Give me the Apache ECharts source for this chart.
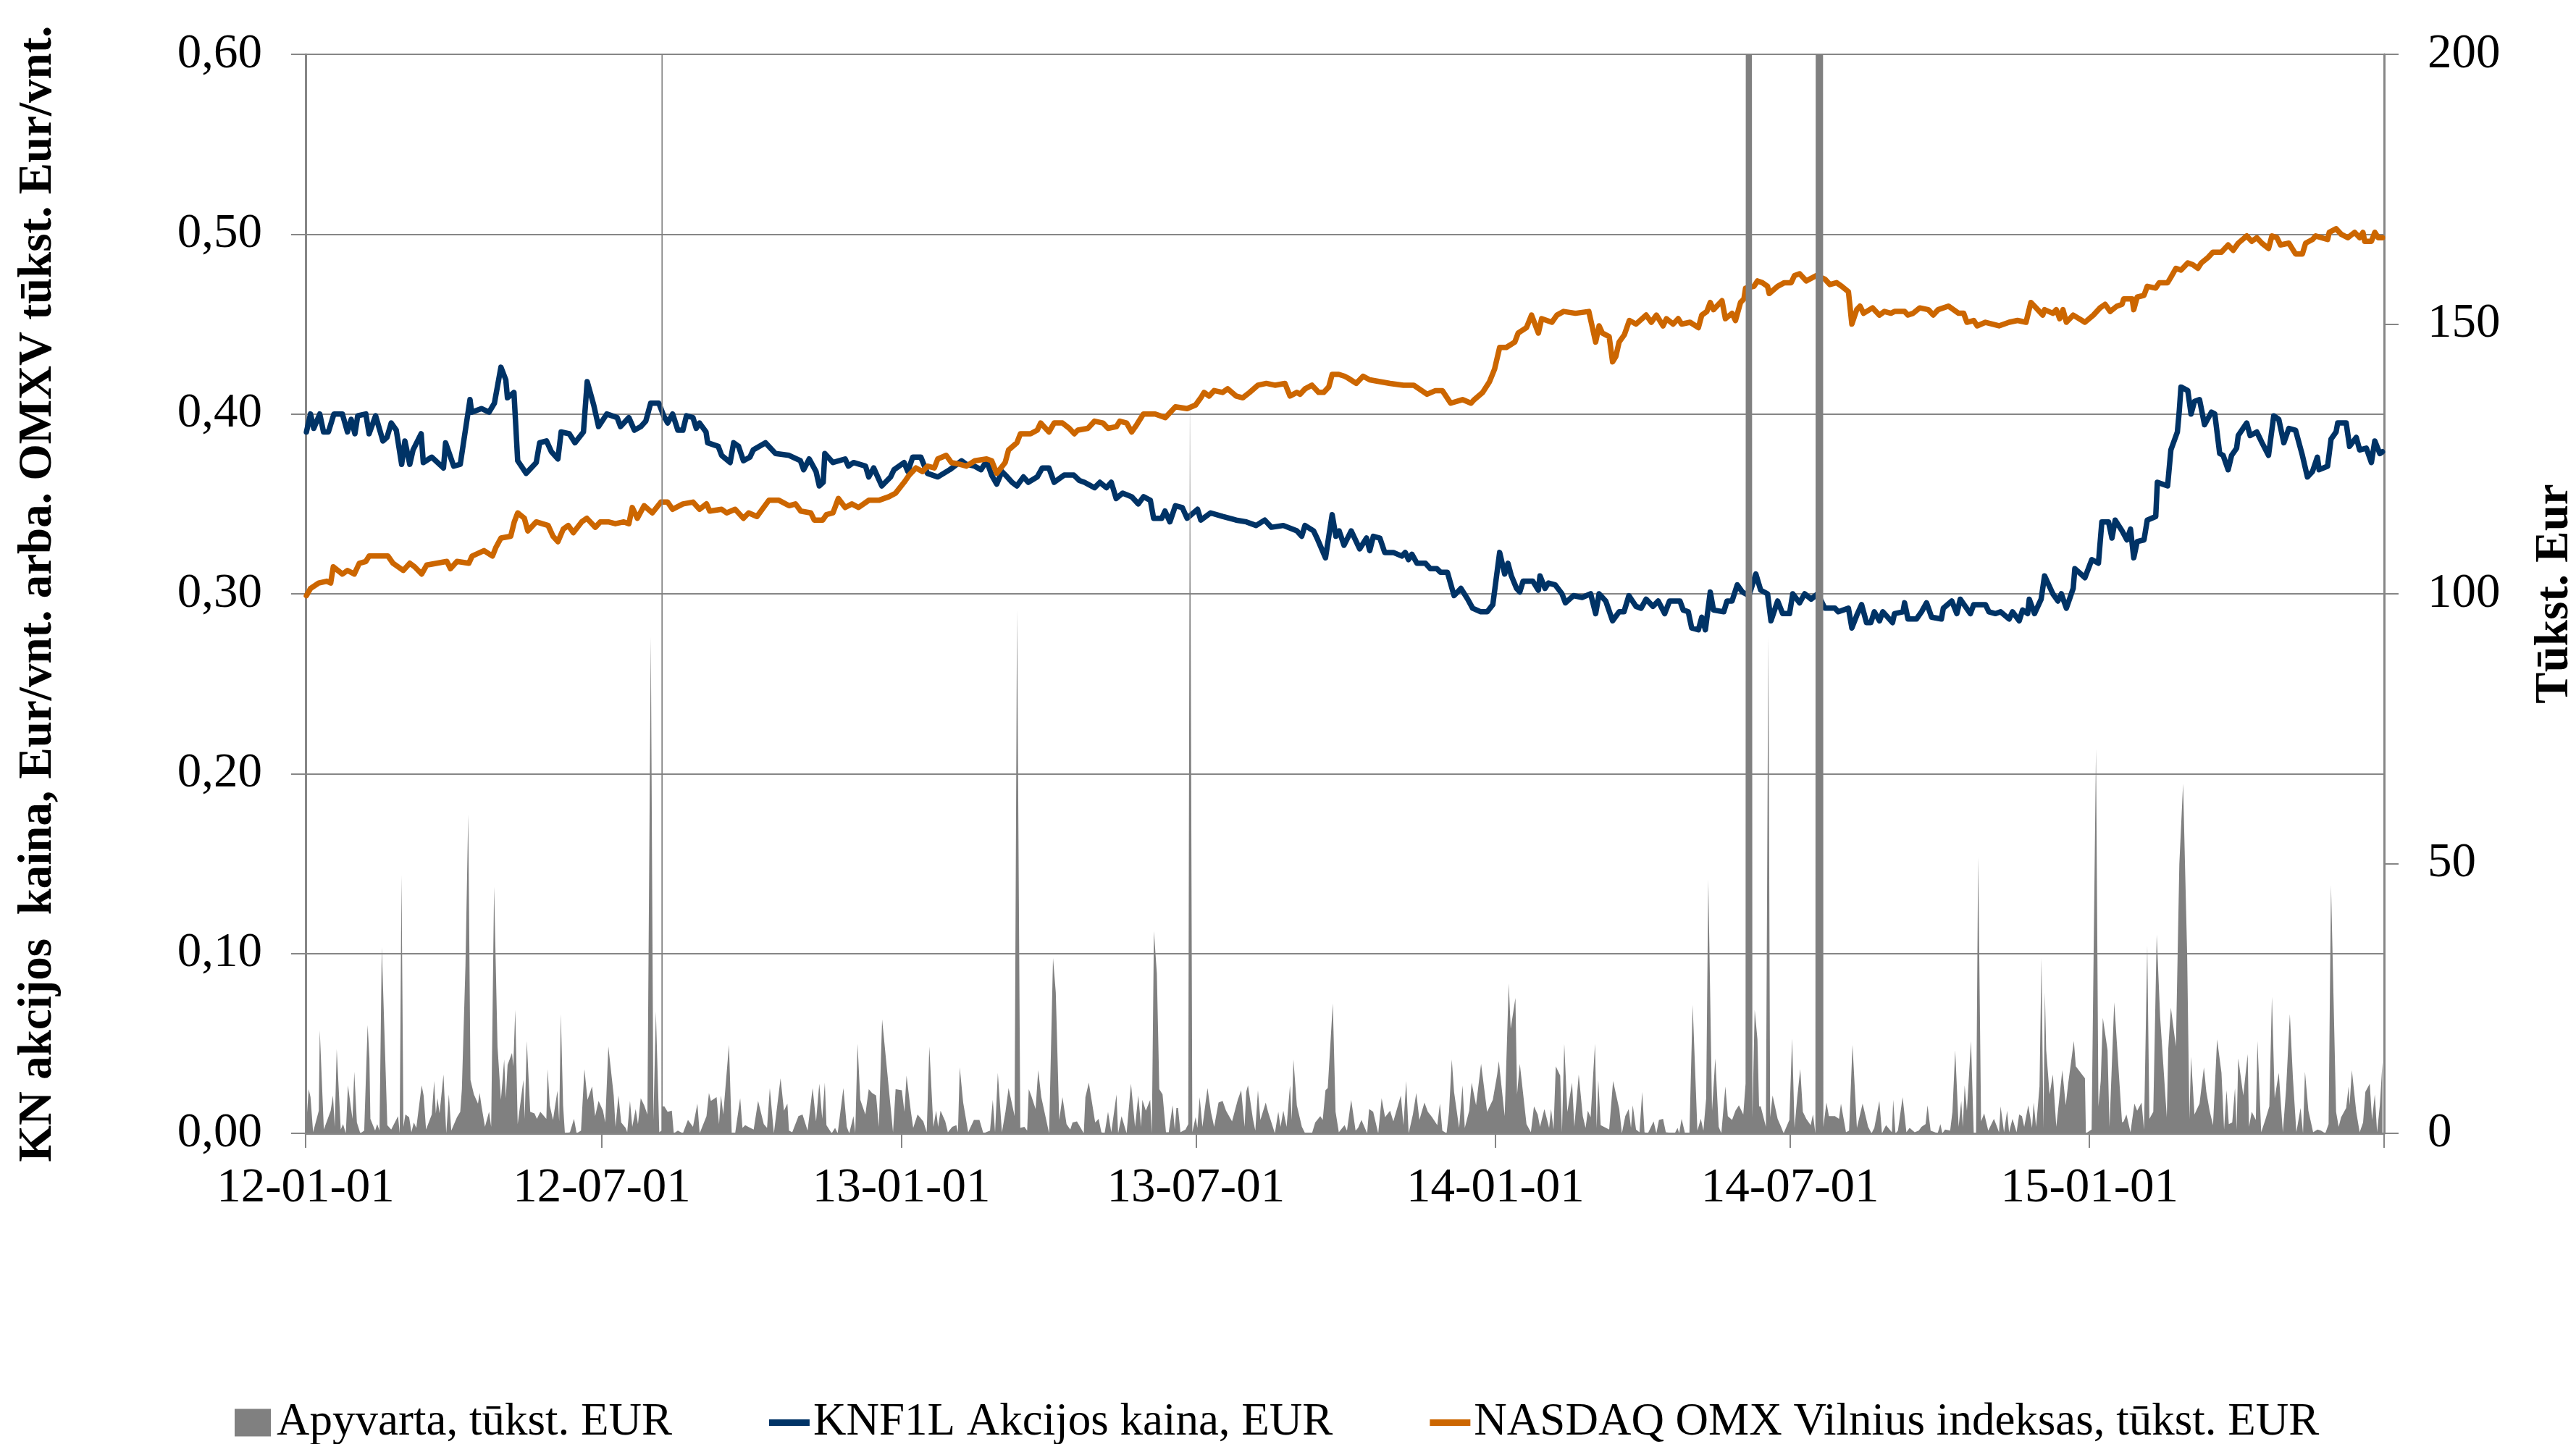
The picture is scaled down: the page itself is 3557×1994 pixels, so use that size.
<!DOCTYPE html>
<html>
<head>
<meta charset="utf-8">
<script src="https://cdn.jsdelivr.net/npm/echarts@6/dist/echarts.min.js"></script>
<style>
html,body{margin:0;padding:0;background:#ffffff;}
#chart{width:3557px;height:1994px;}
</style>
</head>
<body>
<div id="chart"></div>
<script>
// ---------- DATA (x = days since 2012-01-01) ----------
const startDate = '2012-01-01';
const endDate = '2015-07-01';
const xTickDates = ['2012-01-01','2012-07-01','2013-01-01','2013-07-01','2014-01-01','2014-07-01','2015-01-01','2015-07-01'];
const xLabelDates = ['2012-01-01','2012-07-01','2013-01-01','2013-07-01','2014-01-01','2014-07-01','2015-01-01'];
const seriesNames = ['Apyvarta, tūkst. EUR','KNF1L Akcijos kaina, EUR','NASDAQ OMX Vilnius indeksas, tūkst. EUR'];
const leftAxisName = 'KN akcijos  kaina, Eur/vnt. arba. OMXV tūkst. Eur/vnt.';
const rightAxisName = 'Tūkst. Eur';

// KNF1L share price, EUR
const priceKNF = [[0.5,.390],[3,.400],[5,.392],[8.7,.400],[11,.390],[14,.390],[17.4,.400],[22.6,.400],[25.7,.390],[28,.397],[30.3,.389],[32,.399],[37,.400],[39,.389],[43,.399],[47.5,.385],[50,.387],[52.6,.395],[55.7,.391],[59,.372],[61,.385],[64,.372],[66,.380],[71,.389],[72.3,.373],[77.5,.376],[84.7,.370],[86,.384],[91,.371],[95,.372],[101,.408],[102,.401],[108,.403],[112.7,.401],[116,.406],[120,.426],[123,.419],[124,.409],[128,.412],[130.3,.374],[135.5,.367],[141.7,.373],[143.8,.384],[148,.385],[151,.379],[155,.375],[157,.390],[162,.389],[165.5,.384],[170.7,.390],[173,.418],[177,.405],[180,.393],[185,.400],[191.4,.398],[193.5,.393],[198.6,.398],[202,.391],[206,.393],[209,.396],[212,.406],[217,.406],[220,.399],[222.4,.395],[225.5,.400],[228.7,.391],[231.8,.391],[234,.399],[238,.398],[240,.392],[242,.395],[246,.390],[247,.384],[253.5,.382],[255.6,.377],[260.8,.373],[263,.384],[266,.382],[269,.374],[273,.376],[275,.380],[282.5,.384],[288.7,.378],[297,.377],[304,.374],[306,.369],[309.4,.375],[313.6,.368],[315.6,.360],[318,.362],[319,.378],[324,.373],[331.5,.375],[333.5,.371],[336.6,.373],[344,.371],[346,.365],[349,.370],[354,.360],[359.4,.365],[361.5,.369],[367.7,.373],[370,.368],[373,.376],[378,.376],[382,.367],[388.4,.365],[395.7,.369],[403,.374],[406,.372],[411,.371],[415,.369],[418.4,.374],[421.5,.366],[424.6,.361],[427.8,.368],[430,.366],[434,.362],[437,.360],[441,.365],[444,.362],[449.5,.365],[452.6,.370],[456.7,.370],[459.9,.362],[466,.366],[472,.366],[475.4,.363],[478.5,.362],[484.7,.359],[488,.362],[492,.359],[495,.362],[498,.353],[502,.356],[507.5,.354],[511.6,.350],[514.8,.354],[519,.352],[521,.342],[526,.342],[528,.346],[531,.340],[534.4,.349],[538.6,.348],[541.6,.342],[548,.347],[550,.341],[556,.345],[563.4,.343],[571.7,.341],[578,.340],[584,.338],[589.3,.341],[593.4,.337],[600.7,.338],[609,.335],[612,.332],[614,.338],[619.3,.335],[621.4,.331],[626.6,.320],[630.7,.344],[633,.332],[635,.335],[638,.327],[642.4,.335],[647.6,.325],[651.8,.331],[653.8,.324],[656,.332],[660,.331],[663,.323],[668.3,.323],[673.5,.321],[675.6,.323],[677.6,.319],[679.7,.322],[682.8,.317],[688,.317],[691,.314],[695,.314],[697.3,.312],[701.5,.312],[705.6,.299],[709.8,.303],[714,.297],[717,.292],[722,.290],[726,.290],[729.4,.294],[733.6,.323],[736.7,.311],[738.7,.317],[740.8,.310],[744,.303],[746,.301],[748,.307],[754,.307],[757.4,.302],[758.4,.310],[761.5,.303],[763.6,.306],[767.7,.305],[771.9,.300],[774,.295],[779,.299],[784.3,.298],[789.5,.300],[792.6,.289],[794.7,.300],[798.8,.296],[803,.285],[807,.290],[810,.290],[813,.299],[817.4,.293],[820.5,.292],[823.6,.297],[827.8,.293],[831,.296],[835,.289],[838,.296],[844.4,.296],[846.4,.291],[849.5,.290],[851.6,.281],[855.7,.280],[857.8,.287],[860,.280],[863,.301],[865,.291],[871.3,.290],[873.3,.296],[876.4,.296],[879.6,.305],[882.7,.301],[886.8,.299],[891,.311],[894,.302],[898.2,.300],[900.3,.285],[904.4,.296],[907.5,.289],[911.7,.289],[913.7,.300],[917.9,.295],[921,.300],[925,.297],[929,.300],[933.4,.292],[939.6,.292],[941.7,.290],[947.9,.292],[950,.281],[953,.288],[956,.294],[959,.284],[961.7,.284],[963.8,.290],[967,.285],[969,.290],[975,.284],[976.2,.289],[981.4,.290],[982.4,.295],[984.5,.286],[989.7,.286],[992.8,.290],[995.9,.295],[999,.287],[1005,.286],[1006.2,.292],[1011.4,.296],[1014.5,.289],[1016.6,.297],[1022.8,.289],[1024.9,.294],[1032.1,.294],[1034.2,.290],[1038.3,.289],[1041.4,.290],[1046.6,.286],[1048.7,.290],[1052.8,.285],[1054.9,.291],[1058,.289],[1059,.297],[1062.2,.289],[1066.3,.297],[1068.4,.310],[1073.5,.300],[1076.6,.296],[1078.7,.300],[1081.8,.292],[1086,.303],[1087,.314],[1093.2,.309],[1097.4,.319],[1101.5,.317],[1103.6,.340],[1107.7,.340],[1109.8,.331],[1111.8,.341],[1116,.335],[1119,.330],[1121.2,.336],[1123.2,.320],[1125.3,.329],[1129.5,.330],[1131.5,.341],[1136.7,.343],[1137.7,.362],[1144,.360],[1146,.380],[1150,.390],[1151.2,.402],[1152.2,.415],[1156.4,.413],[1158.4,.400],[1160.5,.407],[1163.6,.408],[1166.7,.394],[1170.9,.401],[1173,.400],[1176,.378],[1178.1,.377],[1181.2,.369],[1183.3,.377],[1186.4,.381],[1187.4,.388],[1192.6,.395],[1194.7,.388],[1198.8,.390],[1202,.384],[1206,.377],[1209.2,.399],[1212.3,.397],[1215.4,.384],[1218.5,.392],[1222.6,.391],[1226.8,.377],[1229.9,.365],[1233,.368],[1236,.376],[1237.1,.369],[1242.3,.371],[1244.4,.386],[1247.5,.390],[1248.5,.395],[1253.7,.395],[1255.8,.382],[1259.9,.387],[1262,.380],[1266.1,.381],[1269.2,.373],[1271.3,.385],[1274.4,.378],[1276,.379]];

// NASDAQ OMX Vilnius index, thousands
const indexOMXV = [[0.5,.299],[3,.303],[8,.306],[13,.307],[15.4,.306],[17,.315],[22.6,.311],[25.7,.313],[29.9,.311],[33,.317],[37,.318],[39,.321],[45.4,.321],[50.6,.321],[53.7,.317],[60,.313],[64,.317],[67,.315],[71.3,.311],[74.4,.316],[80.6,.317],[86.8,.318],[89,.314],[93,.318],[100.3,.317],[102.3,.321],[109.6,.324],[114.8,.321],[117,.326],[120,.331],[126,.332],[128.2,.340],[130.3,.345],[134.4,.342],[136.5,.335],[141.7,.340],[149,.338],[152,.332],[155,.329],[158.3,.336],[161.4,.338],[164.5,.334],[169.6,.340],[172.8,.342],[178,.337],[181,.340],[186,.340],[190.3,.339],[195.5,.340],[198.6,.339],[200.7,.348],[203.8,.342],[208,.349],[213,.345],[218.3,.351],[222.4,.351],[225.5,.347],[231.8,.350],[238,.351],[242,.347],[246.3,.350],[248.3,.346],[255.6,.347],[258.7,.345],[263.9,.347],[269,.342],[272.2,.345],[277.3,.343],[284.6,.352],[290.8,.352],[297,.349],[301,.350],[304.2,.346],[310.4,.345],[312.5,.341],[317.7,.341],[320,.344],[324,.345],[327.3,.353],[331.5,.348],[335.6,.350],[339.7,.348],[346,.352],[352.2,.352],[358.4,.354],[362.5,.356],[367.7,.362],[370.8,.366],[375,.370],[379,.368],[382,.371],[386.3,.370],[388.4,.375],[393.6,.377],[396.7,.373],[401.9,.372],[406,.371],[411.2,.374],[418.4,.375],[421.5,.374],[424.6,.367],[429.8,.373],[431.9,.380],[437,.384],[439.2,.389],[445.4,.389],[449.5,.391],[451.6,.395],[456.7,.390],[459.9,.395],[465,.395],[469.2,.392],[472.3,.389],[474.4,.391],[480.6,.392],[484.7,.396],[489.9,.395],[493,.392],[498.2,.393],[500.2,.396],[504.4,.395],[507.5,.390],[510.6,.394],[514.7,.400],[522,.400],[528.2,.398],[534.4,.404],[541.6,.403],[546.8,.405],[550,.409],[552,.412],[555.1,.410],[558.2,.413],[563.4,.412],[566.5,.414],[571.7,.410],[575.8,.409],[580,.412],[585.1,.416],[590.3,.417],[595.5,.416],[601.7,.417],[604.8,.410],[609,.412],[611,.411],[614.1,.414],[618.3,.416],[622.4,.412],[625.5,.412],[628.6,.415],[630.7,.422],[634.8,.422],[638.3,.421],[640.4,.420],[645.5,.417],[649.7,.421],[653.8,.419],[660,.418],[666.3,.417],[674.5,.416],[680.8,.416],[689,.411],[694.2,.413],[698.4,.413],[703.5,.406],[710.8,.408],[716,.406],[718,.408],[723.2,.412],[727.4,.418],[730.5,.425],[733.6,.437],[737.7,.437],[742.9,.440],[745,.445],[750.1,.448],[753.2,.455],[757.4,.445],[759.4,.453],[765.7,.451],[768.8,.455],[772.9,.457],[780.2,.456],[788.4,.457],[792.6,.440],[794.7,.449],[796.7,.445],[800.9,.443],[803,.429],[805,.432],[807,.440],[810.2,.444],[813.3,.452],[817.4,.450],[823.6,.455],[826.8,.451],[829.9,.455],[834,.449],[836.1,.453],[840.2,.450],[843.3,.453],[845.4,.450],[850.6,.451],[855.7,.448],[857.8,.455],[860.9,.457],[863,.462],[865,.458],[870.2,.463],[872.3,.453],[876.4,.456],[878.5,.452],[881.6,.462],[883.7,.464],[884.7,.470],[889.9,.471],[892,.474],[895,.473],[898.2,.471],[899.2,.467],[904.4,.471],[908.5,.473],[912.7,.473],[914.8,.477],[917.9,.478],[922,.474],[928.2,.477],[933.4,.475],[936.5,.472],[940.6,.473],[943.8,.471],[947.9,.468],[950,.450],[953,.458],[955,.460],[957.2,.456],[962.7,.459],[966.9,.455],[970,.457],[974,.456],[976.2,.457],[982.4,.457],[984.5,.455],[987.6,.456],[991.7,.459],[997,.458],[1000,.455],[1003,.458],[1009.3,.460],[1015.6,.456],[1018.7,.456],[1020.7,.451],[1024.9,.452],[1027,.449],[1032.1,.451],[1040.4,.449],[1046.6,.451],[1051.8,.452],[1057,.451],[1060,.462],[1063.2,.459],[1067.3,.455],[1068.4,.458],[1073.5,.456],[1075.6,.458],[1077.7,.453],[1079.7,.458],[1081.8,.451],[1086,.455],[1093.2,.451],[1098.4,.455],[1102.5,.459],[1105.6,.461],[1108.7,.457],[1112.9,.460],[1116,.461],[1117,.464],[1122.2,.464],[1123.2,.458],[1125.3,.465],[1129.5,.466],[1131.5,.471],[1136.7,.470],[1138.8,.473],[1144,.473],[1146,.476],[1149.1,.481],[1152.2,.480],[1156.4,.484],[1159.5,.483],[1162.6,.481],[1164.7,.484],[1168.8,.487],[1171.9,.490],[1177.1,.490],[1181.2,.494],[1184.3,.491],[1187.4,.495],[1192.6,.499],[1195.7,.496],[1198.8,.498],[1201.9,.495],[1206,.492],[1208.1,.499],[1211.2,.498],[1213.3,.494],[1218.5,.495],[1222.6,.489],[1226.8,.489],[1228.8,.495],[1233,.497],[1235,.499],[1242.3,.497],[1243.3,.501],[1247.5,.503],[1250.6,.500],[1254.7,.498],[1258.9,.501],[1262,.498],[1264,.501],[1265.1,.496],[1269.2,.496],[1271.3,.501],[1273.4,.498],[1276,.498]];

// Turnover, thousand EUR (right axis)
const turnover = [[0,0],[1.9,8.2],[3,6.7],[4.6,0.2],[8.1,4.2],[8.7,19.1],[11.2,0.7],[15.4,4.2],[16.8,7],[17.9,1.2],[19.1,15.6],[21.6,0.7],[23,1.7],[24.7,0],[26,8.9],[28.8,2.7],[29.9,11.4],[31.5,2],[33.6,0],[36,0.5],[38.1,20.1],[39.2,13.9],[39.8,2.7],[42.7,0.5],[44,1.7],[45.4,0.5],[46.8,34.5],[50.2,1.5],[52.6,0.7],[56.8,3.2],[57.8,0],[58.9,47.9],[60.1,1.2],[61.3,3.5],[63.6,3],[65,0.2],[66.5,2],[68,1],[71.3,8.9],[72.5,7],[74,0.7],[77.5,3.5],[79,9.7],[80,3.7],[81,6.5],[82.3,3.7],[84.7,10.9],[86.4,0],[88,7.2],[89.5,0.5],[93,3],[95,4],[96,8.2],[98.2,31],[99.9,59.1],[101.3,9.9],[103.4,7.2],[105.9,5.5],[106.9,7.5],[108.1,5],[110.2,1.2],[112.7,4],[114,1.2],[115.8,45.7],[117.9,16.1],[120,6.2],[122,13.7],[123,6.5],[124.1,12.7],[126.8,14.9],[127.6,12.4],[128.8,22.9],[130.3,1.7],[133.8,9.9],[134.6,2.7],[135.9,17.1],[138,4],[140.6,3.7],[142.1,2.7],[144.2,4],[147.9,2.7],[148.7,11.9],[150,5.2],[152,2.5],[154.7,7.9],[155.8,2.2],[156.8,22.1],[158.2,5.2],[159.3,0],[162.4,0.2],[164.9,2.7],[166.5,0],[169.2,0.5],[171.3,11.9],[173.2,6.2],[176,8.7],[177.9,3.2],[180,6],[182.7,4.2],[184.1,2],[186,16.1],[189.3,7],[190.4,1.2],[192.2,7],[193.9,2],[196.6,1],[197.6,0.2],[199.3,6],[200.7,1.2],[202.8,4.5],[204.2,1.7],[205.9,6.5],[208,5.2],[210,3.5],[212.1,92],[213.7,2.5],[215.2,22.6],[217.3,0.2],[218.6,0.5],[219,1500],[219.4,5],[220.4,5],[222.4,4],[225,4.2],[226.2,0],[228.7,0.5],[231.8,0],[234.9,2.5],[238,1.2],[240.7,5.5],[242.1,0],[246.3,3.2],[247.8,7.5],[249,6],[252.5,6.7],[254,1.7],[255.2,7],[256.6,3.5],[260.1,16.4],[261.8,0],[263.9,0],[267,6.5],[268.4,1],[270.1,1.5],[273.2,1],[275.3,0.7],[278,6],[281.5,1.7],[283.5,1],[285.2,8.4],[287.7,0],[291.8,10.2],[293.9,4.2],[296,5.5],[297,0.5],[299,0.2],[302.8,3.2],[305.3,3.5],[308.4,0.5],[311.5,8.4],[313.6,2.2],[315.6,9.2],[317.4,2.7],[319,9.4],[320,1.5],[323.2,0],[325.3,1],[326.9,0],[330.4,8.4],[332.5,1.2],[334,0],[336.6,3.2],[337.7,0],[339.1,16.6],[340.8,6.2],[343.9,3.5],[346,8.2],[348,7.5],[350.5,7],[352.2,1.2],[354.2,21.1],[357.4,11.2],[360.9,0.2],[362.5,8.2],[366.3,8],[367.9,4],[369.2,10.7],[371.8,4.2],[373.3,1],[376,3.5],[379.5,2.2],[381.6,0.2],[383.2,16.1],[385.7,1.2],[387.4,4.2],[388.6,1.2],[390.1,4.2],[393,2.2],[394.6,0.2],[397.3,1.2],[399.8,1.5],[400.8,0.2],[401.9,12.2],[404,5.7],[407.1,0.2],[410.6,2.5],[414,2.5],[416.4,0],[420.5,0.5],[422.2,6.2],[423.6,0.2],[425.3,11.2],[427.8,0.2],[430,4],[431.9,8.4],[435.6,3.2],[437.1,97],[439.1,1],[441.6,1.2],[443.3,0.5],[444.3,8.2],[445.8,7],[448.5,4.5],[450.1,11.7],[452,6.7],[456.8,0],[459.2,32.5],[460.9,26.1],[463,2.5],[465,6.7],[467.5,1.7],[469.8,0.7],[471.2,2],[473.9,2.2],[478.1,0],[479.1,6.7],[481.2,9.4],[485.1,2],[487.2,2.7],[488.9,0.2],[490.9,0],[493,4],[495,0.2],[498.2,7.2],[499.2,0],[501.3,3.2],[504.4,0],[507.1,9.2],[509.6,1.2],[511.6,7],[513.3,1.2],[514.1,6.2],[516.2,4.2],[518.9,6.2],[519.9,0],[521.2,37.5],[523,29.6],[524.5,8.2],[526.5,7.2],[528.6,0.2],[530.3,0.2],[532.7,5.2],[534,0.7],[535,4.7],[536,4.7],[537.5,0.2],[540.6,0.7],[542.3,1.7],[543.3,138],[544.8,0.2],[546.8,3],[547.9,1],[549.3,6.7],[551,1.2],[554.1,8.4],[556.2,4],[558.2,1.2],[560.9,5.7],[563.4,6],[565.5,4.2],[569.2,2.2],[572.7,6.2],[574.8,8],[576.9,1.2],[577.9,7.7],[579,8.9],[582,2.7],[583.5,0.5],[585.1,8],[586.6,2.5],[589.9,5.7],[591.3,4],[595.5,0],[597.6,4],[599,1.2],[600.7,4.2],[602.7,1.2],[604.8,8.9],[605.9,2.5],[606.9,13.7],[609,5.2],[612.1,1.2],[614.1,0],[618.3,0],[620.3,2],[623.4,3.2],[624.9,2.5],[626.6,8],[628,8.4],[631.1,24.1],[632.8,4],[634.8,0.2],[638.3,1.5],[639.8,0.5],[642.4,6.2],[645.1,0.5],[646.6,1],[648.7,2.5],[652.2,0],[653.4,4.5],[655.9,4],[659,0],[661.1,6.5],[663.2,3],[666.3,4.2],[668.3,2.2],[672.9,7],[674.5,1.5],[676.2,9.7],[677.7,0],[680.3,3.5],[682.4,7.5],[684.3,2.5],[687.4,5.7],[689.5,4],[692.1,3],[695.3,1.5],[696.9,5.5],[698.4,0.5],[701,0],[702.5,4],[704.2,13.7],[705.6,7.7],[708.7,1],[710.8,8.9],[712.2,1],[714.9,4.2],[716.4,9.4],[719.1,5.2],[722.2,12.9],[725.9,4],[729.4,6.2],[732.1,10.9],[733.1,13.4],[736.7,3.2],[739.2,27.8],[740.4,19.4],[743.3,25.1],[744.3,7.2],[746,12.9],[750.1,1.7],[752.8,0.2],[754.7,5],[757,3.5],[758.4,1.2],[761.1,4.5],[764,1],[765.2,4.5],[766.7,0.7],[768.1,12.4],[770.8,10.7],[771.9,0.2],[773.3,16.6],[775.2,4],[778.1,9.4],[779.5,1.2],[782.2,10.9],[784.7,3.2],[786.4,1],[787.8,4.2],[789.5,3],[792.2,16.6],[793.2,1],[794.2,9.9],[795.7,1.5],[800.9,0.7],[803.3,9.7],[807.1,4.5],[808.7,0],[810.8,3.2],[812.9,4.5],[814.3,1],[815.4,5.2],[817.4,0.7],[819.5,0.2],[821.2,7.7],[822.6,0.2],[824.7,0],[828.2,2.2],[829.9,0],[831.5,2.5],[834,2.7],[835.7,0.2],[841.2,0],[842.9,1],[843.9,0],[845.4,2.7],[847.5,0],[850.2,0],[852.2,23.8],[855.1,0.5],[857.2,2.7],[858.8,0.5],[860.5,6.5],[861.8,47],[864.1,4.2],[866.1,13.9],[868.2,1.2],[869.8,0],[872.3,8.7],[873.8,3.2],[876.4,2.5],[878.5,4.2],[880.6,5.2],[883.3,3.5],[884.7,9.2],[885.7,1500],[886.7,1500],[888.9,3],[890.3,22.9],[892,17.4],[893,5],[894,5],[897.2,1.2],[898.7,92],[899.8,3],[901.3,7],[904.4,2.7],[906.5,1.2],[908.1,0],[911.6,2.5],[913.3,17.6],[914.8,1],[916.4,6.5],[918.3,11.9],[919.9,4],[922,2.7],[924.7,1.5],[926.1,3.5],[927.6,0],[929,1500],[931,1500],[932.5,1.2],[934.4,5.7],[935.9,3.2],[939.6,3.2],[942.1,2.7],[943.3,5.5],[946.4,0.2],[948.3,0.5],[950.4,16.4],[953.1,1],[956.6,5.5],[960,1.2],[962.1,0],[963.8,1],[966.9,6],[968.5,0],[971,1.5],[974.6,0.2],[975.4,6.2],[976.8,0],[978.3,0.5],[981.2,6.7],[983.5,0.2],[985.5,1],[988.6,0.2],[991.1,0.5],[992.8,1.2],[995.3,1.7],[996.5,5.2],[998.4,0.5],[1001,0.2],[1002.7,0],[1004.4,1.7],[1005.6,0],[1007.3,0.7],[1010.4,0.5],[1011.8,4],[1013.5,15.4],[1015.6,1.2],[1017.2,6],[1018.2,1.2],[1019.3,8.9],[1020.7,4.2],[1023.2,17.1],[1024.9,0],[1026.3,0],[1027.6,51.2],[1029.4,2.2],[1031.3,3.7],[1033.8,0.5],[1037.3,2.7],[1038.8,1.5],[1040.4,0.2],[1041.4,5],[1043.5,0.2],[1045.4,4.2],[1046.6,0.2],[1048.7,2.7],[1051.2,0.2],[1052.8,3.5],[1054.5,3.2],[1055.9,1.2],[1058.4,5.2],[1060.7,1],[1061.7,5.7],[1063.2,1.2],[1065.3,8.7],[1066.5,32.5],[1067.7,1],[1068.6,26.1],[1069.4,15.4],[1071.5,7.2],[1073.5,10.9],[1075.6,1.2],[1079.3,11.7],[1081.4,5.2],[1082.9,9.2],[1086.4,17.1],[1087.6,12.4],[1093.2,10.2],[1093.8,0],[1097.3,0.7],[1100,71.3],[1101.5,5],[1102.9,9.7],[1104.2,21.4],[1107.1,15.4],[1108.3,1.2],[1111.2,24.3],[1116,2],[1117,2.2],[1118.7,3.5],[1121.2,0.2],[1123.6,5.5],[1125.3,4.2],[1128,5.7],[1129.5,0.7],[1131.5,34.8],[1132.8,2.7],[1135.2,4],[1137.3,36.8],[1139.4,21.6],[1143.5,3],[1144.4,15.6],[1146,23.3],[1149.1,16.1],[1151.2,49.9],[1153.5,64.8],[1156,33.3],[1157.4,2.7],[1158.4,14.2],[1160.5,3.5],[1163.6,5.5],[1166.3,12.2],[1167.8,7.7],[1169.8,4.2],[1171.9,1.5],[1174.4,17.4],[1177.1,11.2],[1178.7,0.7],[1180.2,8],[1181.6,1.7],[1183.7,2],[1185.4,8.4],[1186.4,0.7],[1187.4,13.9],[1190.5,7],[1193.2,14.7],[1194,1.2],[1195.7,4],[1198.2,2.5],[1199.2,17.1],[1201.5,0.2],[1204,2.5],[1206.5,5],[1208.1,25.3],[1209.8,6.5],[1212.3,11.2],[1214.8,0.2],[1216.8,8.2],[1219.1,22.1],[1221,10.2],[1223.1,0.2],[1225.7,4.7],[1227.2,0],[1228.4,11.4],[1230.5,4.2],[1233.4,0.2],[1236.1,0.7],[1238.2,0.5],[1240.9,0],[1242.9,1.7],[1244.4,46],[1247.5,4],[1249.1,1.2],[1250.6,3],[1253.7,4.7],[1255.2,8.7],[1255.8,5.2],[1257.2,11.7],[1259.9,4],[1262,0.2],[1264.1,2],[1265.5,7.7],[1268.2,9.2],[1269.6,2.5],[1271.3,7.2],[1272.7,0.2],[1274.4,5.2],[1276,13.2]];

// ---------- helpers ----------
const DAY_MS = 86400000;
function parseDate(s){ const p = s.split('-').map(Number); return Date.UTC(p[0], p[1]-1, p[2]); }
const t0 = parseDate(startDate);
const toTime = arr => arr.map(p => [t0 + p[0]*DAY_MS, p[1]]);
function fmtDate(v){
  const d = new Date(v);
  const yy = String(d.getUTCFullYear()).slice(2);
  const mm = String(d.getUTCMonth()+1).padStart(2,'0');
  const dd = String(d.getUTCDate()).padStart(2,'0');
  return yy + '-' + mm + '-' + dd;
}

const FONT = 'Liberation Serif';
const GRAY = '#868686';
const C_AREA = '#808080', C_BLUE = '#003366', C_ORANGE = '#CC6600';

const chart = echarts.init(document.getElementById('chart'), null, {renderer:'canvas'});
chart.setOption({
  animation: false,
  backgroundColor: '#ffffff',
  grid: { left: 422, right: 265, top: 75, bottom: 429, outerBoundsMode: 'none', containLabel: false },
  legend: {
    left: 319, top: 1928, orient: 'horizontal',
    itemWidth: 56, itemHeight: 38, itemGap: 134,
    selectedMode: false,
    textStyle: { fontFamily: FONT, fontSize: 63, color: '#000000' },
    itemStyle: { borderWidth: 0 },
    data: [
      { name: seriesNames[0], icon: 'path://M0,0H50V38H0Z', itemStyle: { color: C_AREA } },
      { name: seriesNames[1], icon: 'path://M0,0H56V9H0Z', itemStyle: { color: C_BLUE } },
      { name: seriesNames[2], icon: 'path://M0,0H56V9H0Z', itemStyle: { color: C_ORANGE } }
    ]
  },
  xAxis: {
    type: 'value',
    min: parseDate(startDate), max: parseDate(endDate),
    axisLine: { show: true, lineStyle: { color: GRAY, width: 3 } },
    axisTick: { show: true, inside: false, length: 20, lineStyle: { color: GRAY, width: 2 },
                customValues: xTickDates.map(parseDate) },
    axisLabel: { show: true, margin: 43, fontFamily: FONT, fontSize: 67, color: '#000000',
                 customValues: xLabelDates.map(parseDate), formatter: v => fmtDate(v),
                 hideOverlap: false },
    splitLine: { show: false }
  },
  yAxis: [
    {
      type: 'value', position: 'left', min: 0, max: 0.6, interval: 0.1,
      name: leftAxisName, nameLocation: 'middle', nameGap: 336, nameRotate: 90,
      nameTextStyle: { fontFamily: FONT, fontSize: 65, fontWeight: 'bold', color: '#000000' },
      axisLine: { show: true, lineStyle: { color: GRAY, width: 3 } },
      axisTick: { show: true, inside: false, length: 20, lineStyle: { color: GRAY, width: 2 } },
      axisLabel: { margin: 60, fontFamily: FONT, fontSize: 67, color: '#000000',
                   formatter: v => v.toFixed(2).replace('.', ',') },
      splitLine: { show: true, lineStyle: { color: GRAY, width: 2 } }
    },
    {
      type: 'value', position: 'right', min: 0, max: 200, interval: 50,
      name: rightAxisName, nameLocation: 'middle', nameGap: 204, nameRotate: 90,
      nameTextStyle: { fontFamily: FONT, fontSize: 65, fontWeight: 'bold', color: '#000000' },
      axisLine: { show: true, lineStyle: { color: GRAY, width: 3 } },
      axisTick: { show: true, inside: false, length: 20, lineStyle: { color: GRAY, width: 2 } },
      axisLabel: { margin: 60, fontFamily: FONT, fontSize: 67, color: '#000000' },
      splitLine: { show: false }
    }
  ],
  series: [
    {
      name: seriesNames[1], type: 'line', yAxisIndex: 0, z: 3,
      data: toTime(priceKNF), showSymbol: false, symbol: 'none',
      color: C_BLUE,
      lineStyle: { color: C_BLUE, width: 7.5, join: 'round', cap: 'round' },
      emphasis: { disabled: true }
    },
    {
      name: seriesNames[2], type: 'line', yAxisIndex: 0, z: 4,
      data: toTime(indexOMXV), showSymbol: false, symbol: 'none',
      color: C_ORANGE,
      lineStyle: { color: C_ORANGE, width: 7.5, join: 'round', cap: 'round' },
      emphasis: { disabled: true }
    },
    {
      name: seriesNames[0], type: 'line', yAxisIndex: 1, z: 5,
      data: toTime(turnover), showSymbol: false, symbol: 'none', clip: true,
      color: C_AREA,
      lineStyle: { width: 0, opacity: 0 },
      areaStyle: { color: C_AREA, opacity: 1 },
      emphasis: { disabled: true }
    }
  ]
});
</script>
</body>
</html>
